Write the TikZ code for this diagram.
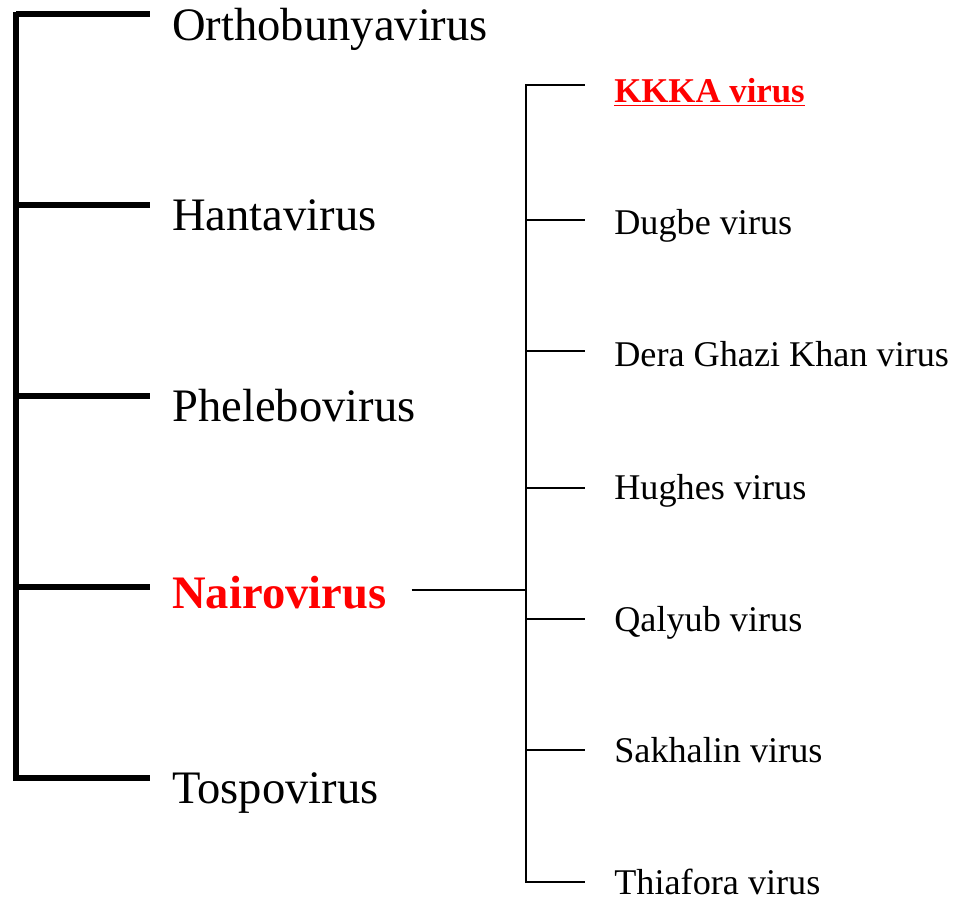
\documentclass[tikz,border=0pt]{standalone}
\usepackage{fontspec}
\setmainfont{Liberation Serif}
\tikzset{
    genus/.style={anchor=base west, inner sep=0pt, font=\fontsize{26.5}{30}\selectfont},
    species/.style={anchor=base west, inner sep=0pt, font=\fontsize{20.6}{24}\selectfont},
    heavy/.style={line width=3.1pt},
    light/.style={line width=1.1pt}
}
\begin{document}
\begin{tikzpicture}[x=0.02cm, y=-0.02cm]
    \useasboundingbox (0,0) rectangle (959,903);

    % Genera
    \node[genus] (ortho) at (172,40) {Orthobunyavirus};
    \node[genus] (hanta) at (172,230) {Hantavirus};
    \node[genus] (phlebo) at (172,421) {Phelebovirus};
    \node[genus, text=red, font=\fontsize{26.5}{30}\selectfont\bfseries] (nairo) at (172,608) {Nairovirus};
    \node[genus] (tospo) at (172,803) {Tospovirus};

    % Left tree
    \draw[heavy] (16,11.5) coordinate (ltop) -- (16,780.5) coordinate (lbot);
    \draw[heavy] (16,14) -- (150,14);
    \draw[heavy] (16,205) -- (150,205);
    \draw[heavy] (16,396) -- (150,396);
    \draw[heavy] (16,587) -- (150,587);
    \draw[heavy] (16,778) -- (150,778);

    % Species of Nairovirus
    \node[species, text=red, font=\fontsize{19.8}{24}\selectfont\bfseries] (kkka) at (614,102) {\underline{KKKA virus}};
    \node[species] (dugbe) at (614,234) {Dugbe virus};
    \node[species] (dgk) at (614,366) {Dera Ghazi Khan virus};
    \node[species] (hughes) at (614,499) {Hughes virus};
    \node[species] (qalyub) at (614,631) {Qalyub virus};
    \node[species] (sakh) at (614,762) {Sakhalin virus};
    \node[species] (thia) at (614,894) {Thiafora virus};

    % Right tree
    \coordinate (njoin) at (526,590);
    \draw[light] (526,84) coordinate (rtop) -- (526,883) coordinate (rbot);
    \draw[light] ([xshift=0.5cm]njoin -| nairo.east) -- (njoin);
    \draw[light] (526,85) -- (585,85);
    \draw[light] (526,220) -- (585,220);
    \draw[light] (526,351) -- (585,351);
    \draw[light] (526,488) -- (585,488);
    \draw[light] (526,619) -- (585,619);
    \draw[light] (526,750) -- (585,750);
    \draw[light] (526,882) -- (585,882);
\end{tikzpicture}
\end{document}
